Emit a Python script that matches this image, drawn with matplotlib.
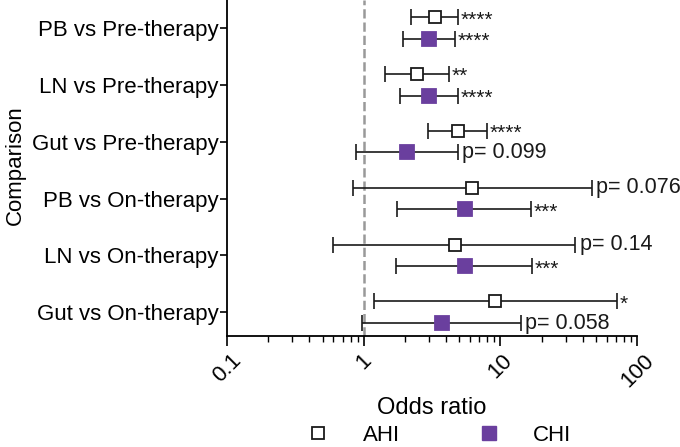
import matplotlib
matplotlib.use("Agg")
import matplotlib.pyplot as plt
import numpy as np
from matplotlib.lines import Line2D

plt.rcParams['font.family'] = ['Liberation Sans', 'DejaVu Sans']

categories = ["PB vs Pre-therapy", "LN vs Pre-therapy", "Gut vs Pre-therapy",
              "PB vs On-therapy", "LN vs On-therapy", "Gut vs On-therapy"]

ahi_or = [3.3, 2.47, 4.88, 6.2, 4.62, 9.15]
ahi_lo = [2.23, 1.42, 2.93, 0.83, 0.60, 1.19]
ahi_hi = [4.85, 4.2, 8.0, 46.4, 35.3, 71.0]
ahi_lab = ["****", "**", "****", "p= 0.076", "p= 0.14", "*"]

chi_or = [3.0, 3.0, 2.06, 5.46, 5.46, 3.71]
chi_lo = [1.95, 1.84, 0.874, 1.76, 1.73, 0.97]
chi_hi = [4.67, 4.85, 4.85, 16.7, 16.9, 14.2]
chi_lab = ["****", "****", "p= 0.099", "***", "***", "p= 0.058"]

purple = "#6A3F9E"

fig = plt.figure(figsize=(6.8, 4.47), dpi=100)
ax = fig.add_axes([0.334, 0.248, 0.603, 0.752])

n = len(categories)
ypos = np.arange(n)[::-1]
off = 0.19

def draw(vals, lo, hi, labs, dy, mfc, mec, ms):
    vals = np.array(vals); lo = np.array(lo); hi = np.array(hi)
    y = ypos + dy
    ax.errorbar(vals, y, xerr=[vals - lo, hi - vals], fmt='none',
                ecolor='#1a1a1a', elinewidth=1.2, capsize=6, capthick=1.2, zorder=2)
    ax.plot(vals, y, 's', ms=ms, mfc=mfc, mec=mec, mew=1.3, ls='none', zorder=3)
    for h, yy, t in zip(hi, y, labs):
        if t.startswith('p'):
            ax.annotate(t, (h, yy), xytext=(3, 0), textcoords='offset points',
                        va='center', ha='left', fontsize=15.5, color='#1a1a1a')
        else:
            ax.annotate(t, (h, yy), xytext=(2, -2), textcoords='offset points',
                        va='center', ha='left', fontsize=15, color='#1a1a1a')

ax.axvline(1, color='#999999', ls='--', lw=1.8, zorder=1)
draw(ahi_or, ahi_lo, ahi_hi, ahi_lab, off, 'white', '#1a1a1a', 8)
draw(chi_or, chi_lo, chi_hi, chi_lab, -off, purple, purple, 10)

ax.set_xscale('log')
ax.set_xlim(0.1, 100)
ax.set_ylim(-0.42, 5.49)
ax.set_yticks(ypos)
ax.set_yticklabels(categories, fontsize=16)
ax.set_xticks([0.1, 1, 10, 100])
ax.set_xticklabels(["0.1", "1", "10", "100"], rotation=45, fontsize=16)
ax.tick_params(axis='x', which='major', length=7, width=1.2, direction='out', pad=3)
ax.tick_params(axis='x', which='minor', length=4, width=1.0, direction='out')
ax.tick_params(axis='y', length=5, width=1.2, direction='out', pad=1)
for s in ['top', 'right']:
    ax.spines[s].set_visible(False)
for s in ['left', 'bottom']:
    ax.spines[s].set_linewidth(1.3)

ax.set_xlabel("Odds ratio", fontsize=17, labelpad=4)
ax.set_ylabel("Comparison", fontsize=16)
ax.yaxis.set_label_coords(-0.49, 0.51)

handles = [Line2D([], [], marker='s', ls='none', ms=8, mfc='white', mec='#1a1a1a', mew=1.3),
           Line2D([], [], marker='s', ls='none', ms=10, mfc=purple, mec=purple)]
fig.legend(handles, ["AHI", "CHI"], loc='lower center', ncol=2, frameon=False,
           bbox_to_anchor=(0.638, -0.042), fontsize=16, columnspacing=3.0, handletextpad=1.0)

fig.savefig("out.png", dpi=100)
